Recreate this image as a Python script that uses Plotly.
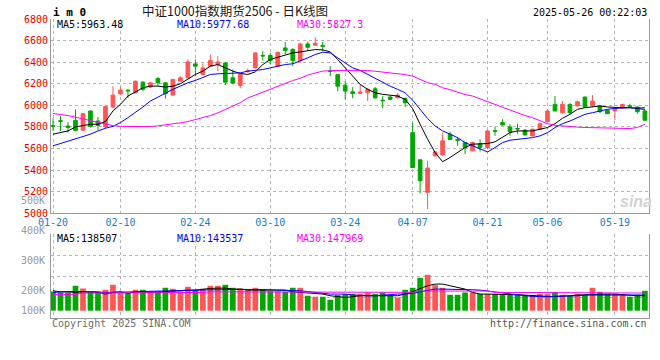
import plotly.graph_objects as go

# ---------------- data ----------------
dates = ["01-20", "01-21", "01-22", "01-23", "01-24", "01-27",
         "02-05", "02-06", "02-07",
         "02-10", "02-11", "02-12", "02-13", "02-14",
         "02-17", "02-18", "02-19", "02-20", "02-21",
         "02-24", "02-25", "02-26", "02-27", "02-28",
         "03-03", "03-04", "03-05", "03-06", "03-07",
         "03-10", "03-11", "03-12", "03-13", "03-14",
         "03-17", "03-18", "03-19", "03-20", "03-21",
         "03-24", "03-25", "03-26", "03-27", "03-28", "03-31",
         "04-01", "04-02", "04-03",
         "04-07", "04-08", "04-09", "04-10", "04-11",
         "04-14", "04-15", "04-16", "04-17", "04-18",
         "04-21", "04-22", "04-23", "04-24", "04-25",
         "04-28", "04-29", "04-30",
         "05-06", "05-07", "05-08", "05-09",
         "05-12", "05-13", "05-14", "05-15", "05-16",
         "05-19", "05-20", "05-21", "05-22", "05-23"]

opens = [5812, 5858, 5809, 5862, 5770, 5948, 5855, 5800, 5985, 6107,
         6140, 6116, 6215, 6169, 6249, 6209, 6095, 6224, 6255, 6384,
         6286, 6363, 6378, 6393, 6255, 6185, 6315, 6347, 6463, 6462,
         6363, 6532, 6517, 6415, 6569, 6557, 6555, 6320, 6286, 6187,
         6126, 6111, 6116, 6153, 6048, 6077, 6070, 6065, 5747, 5495,
         5194, 5532, 5541, 5733, 5683, 5655, 5579, 5646, 5609, 5765,
         5840, 5800, 5786, 5770, 5717, 5779, 5849, 6009, 5932, 6009,
         5994, 6077, 5994, 5994, 5954, 5948, 5978, 5996, 5985, 5948]
highs = [5880, 5901, 5846, 5961, 5928, 5952, 5892, 5995, 6178, 6169,
         6153, 6230, 6224, 6215, 6261, 6215, 6245, 6270, 6425, 6425,
         6390, 6471, 6455, 6400, 6332, 6290, 6340, 6490, 6501, 6486,
         6495, 6587, 6530, 6580, 6590, 6630, 6587, 6363, 6290, 6224,
         6169, 6194, 6160, 6170, 6086, 6090, 6113, 6070, 5840, 5500,
         5486, 5575, 5747, 5757, 5708, 5660, 5665, 5686, 5770, 5800,
         5871, 5825, 5830, 5780, 5785, 5840, 5955, 6086, 6040, 6020,
         6045, 6080, 6095, 6000, 5960, 5980, 6015, 6015, 5990, 5960]
lows = [5763, 5763, 5747, 5765, 5765, 5795, 5772, 5790, 5975, 6095,
        6070, 6110, 6132, 6163, 6178, 6061, 6090, 6220, 6250, 6271,
        6280, 6358, 6317, 6188, 6195, 6160, 6300, 6340, 6415, 6378,
        6360, 6471, 6363, 6393, 6510, 6550, 6501, 6271, 6132, 6055,
        6065, 6105, 6040, 6060, 5972, 6050, 6065, 5985, 5420, 5185,
        5041, 5525, 5535, 5680, 5625, 5548, 5575, 5572, 5594, 5717,
        5815, 5717, 5733, 5720, 5712, 5775, 5845, 5945, 5925, 5915,
        5990, 5980, 5990, 5930, 5918, 5862, 5970, 5975, 5923, 5860]
closes = [5806, 5852, 5794, 5768, 5923, 5805, 5814, 5989, 6095, 6141,
          6135, 6224, 6148, 6209, 6209, 6107, 6240, 6255, 6402, 6363,
          6347, 6415, 6402, 6215, 6206, 6286, 6320, 6486, 6458, 6415,
          6492, 6508, 6415, 6569, 6538, 6575, 6548, 6315, 6178, 6132,
          6110, 6123, 6148, 6070, 6043, 6055, 6095, 6024, 5424, 5302,
          5419, 5569, 5671, 5683, 5677, 5609, 5655, 5609, 5763, 5760,
          5818, 5757, 5781, 5726, 5779, 5830, 5948, 5948, 6009, 5932,
          6033, 5985, 6040, 5941, 5923, 5972, 6009, 5990, 5941, 5862]

ma5 = [5733, 5748, 5763, 5800, 5816, 5825, 5825, 5850, 5948, 6009,
       6086, 6126, 6163, 6178, 6178, 6169, 6178, 6200, 6240, 6286,
       6317, 6363, 6378, 6347, 6317, 6296, 6286, 6310, 6378, 6425,
       6446, 6471, 6486, 6495, 6508, 6517, 6514, 6495, 6425, 6347,
       6271, 6194, 6148, 6116, 6102, 6095, 6086, 6055, 5970, 5825,
       5686, 5563, 5478, 5517, 5563, 5609, 5640, 5640, 5646, 5662,
       5701, 5747, 5763, 5763, 5763, 5779, 5794, 5830, 5880, 5917,
       5963, 5978, 5985, 5994, 5985, 5978, 5978, 5978, 5972, 5963]
ma10 = [5625, 5646, 5664, 5686, 5708, 5733, 5763, 5788, 5805, 5840,
        5886, 5932, 5985, 6040, 6077, 6116, 6148, 6178, 6209, 6231,
        6261, 6286, 6292, 6295, 6301, 6301, 6317, 6323, 6332, 6347,
        6363, 6378, 6385, 6409, 6440, 6471, 6492, 6486, 6440, 6393,
        6347, 6323, 6286, 6249, 6209, 6178, 6148, 6116, 6048, 5960,
        5878, 5809, 5763, 5733, 5701, 5655, 5625, 5594, 5568, 5609,
        5655, 5677, 5686, 5696, 5701, 5717, 5747, 5794, 5830, 5855,
        5886, 5917, 5932, 5948, 5963, 5972, 5978, 5978, 5975, 5978]
ma30 = [5925, 5918, 5905, 5890, 5875, 5860, 5845, 5830, 5812, 5805,
        5803, 5803, 5803, 5803, 5810, 5818, 5825, 5838, 5850, 5868,
        5888, 5905, 5930, 5960, 5990, 6025, 6068, 6095, 6122, 6148,
        6175, 6205, 6230, 6250, 6280, 6300, 6317, 6322, 6323, 6323,
        6323, 6323, 6322, 6316, 6310, 6303, 6297, 6285, 6271, 6240,
        6210, 6195, 6163, 6145, 6120, 6100, 6086, 6060, 6030, 6005,
        5980, 5950, 5930, 5905, 5886, 5860, 5830, 5815, 5808, 5802,
        5798, 5795, 5794, 5792, 5790, 5788, 5786, 5785, 5795, 5825]

volumes = [150700, 148800, 148800, 161500, 156400, 150000, 148800, 153900, 163400, 148800,
           146900, 153900, 153900, 151400, 151400, 157700, 155800, 150700, 159600, 153300,
           155800, 161500, 161500, 163400, 157700, 156400, 153900, 157700, 155000, 151400,
           151400, 150000, 157700, 157700, 142500, 140600, 140600, 134900, 143800, 145700,
           146300, 145700, 148800, 146300, 148800, 142500, 139200, 153900, 157700, 176800,
           182500, 162800, 157700, 144400, 144400, 148800, 148800, 145700, 145700, 145700,
           145700, 145700, 145700, 143800, 143800, 145700, 145700, 150000, 144400, 142500,
           145700, 144400, 157700, 150000, 146300, 145700, 145700, 140600, 144400, 152000]
vma5 = [152000, 150000, 150000, 148800, 150000, 150000, 148800, 145700, 148800, 150000,
        147000, 150000, 150000, 148800, 148800, 150700, 152000, 152000, 153300, 153300,
        155200, 156400, 157000, 157000, 155200, 155200, 153300, 153300, 153300, 153900,
        153900, 153300, 150000, 148800, 148800, 147600, 145700, 142500, 140600, 139200,
        140600, 142500, 142500, 142500, 143800, 143800, 142500, 145700, 150000, 156400,
        161500, 164800, 164800, 161500, 158300, 155200, 148800, 145700, 145700, 145700,
        145700, 145700, 144400, 143800, 142500, 142500, 141200, 141200, 141200, 142500,
        143800, 144400, 145700, 145700, 145700, 145700, 144400, 143800, 142500, 142500]
vma10 = [148800, 150000, 150600, 150600, 150600, 150000, 150000, 148800, 148800, 148800,
         148800, 150000, 150600, 151400, 151400, 151400, 152000, 152000, 152700, 153300,
         153300, 153900, 153900, 154600, 154600, 154600, 154600, 153900, 153900, 153900,
         153300, 153300, 153300, 152000, 150600, 148800, 147000, 145700, 145700, 145700,
         143800, 142500, 142500, 142500, 143800, 144400, 145700, 145700, 147000, 150000,
         153300, 155200, 155200, 155200, 155200, 155200, 153900, 153300, 151400, 148800,
         147600, 145700, 144400, 142500, 141200, 140600, 140600, 141200, 141200, 141200,
         142500, 143800, 143800, 144400, 144400, 144400, 144400, 143800, 143800, 143800]
vma30 = [145000, 145000, 145000, 145000, 147600, 147600, 147600, 147600, 147600, 147600,
         148800, 148800, 148800, 148800, 148800, 148800, 148800, 148800, 148800, 148800,
         148800, 150000, 150000, 150000, 150000, 150000, 150000, 150000, 150000, 150000,
         150000, 150000, 150000, 150000, 150000, 150000, 150000, 150000, 150000, 150000,
         150000, 150000, 150000, 150000, 150000, 149000, 149000, 149000, 149000, 151500,
         151500, 151500, 151500, 151500, 151500, 151500, 151500, 151500, 151500, 149000,
         149000, 149000, 149000, 149000, 149000, 149000, 149000, 147600, 147600, 147600,
         147600, 147600, 147600, 147600, 147600, 147600, 147600, 147600, 147600, 147600]

x_tick_labels = ["01-20", "02-10", "02-24", "03-10", "03-24", "04-07", "04-21", "05-06", "05-19"]
price_ticks = [5000, 5200, 5400, 5600, 5800, 6000, 6200, 6400, 6600, 6800]
vol_label_texts = ["500K", "400K", "300K", "200K", "100K"]

title_text = "中证1000指数期货2506 - 日K线图"
symbol_text = "i m 0"
time_text = "2025-05-26 00:22:03"
price_ma_texts = ["MA5:5963.48", "MA10:5977.68", "MA30:5827.3"]
vol_ma_texts = ["MA5:138507", "MA10:143537", "MA30:147969"]
footer_left = "Copyright 2025 SINA.COM"
footer_right = "http://finance.sina.com.cn"

# ---------------- style ----------------
RED = "#ff5555"
GREEN = "#00a800"
MA_COLORS = ["#000000", "#0000ff", "#ff00ff"]
GRID = "#b4b4b4"
BORDER = "#9a9a9a"
MONO = "DejaVu Sans Mono"
VBASE = 114000

W_FIG, H_FIG = 660, 360
L, R, T, B = 50.7, 649.3, 18.5, 318.3
PW, PH = R - L, B - T


def px(xp):
    return (xp - L) / PW


def py(yp):
    return (B - yp) / PH


fig = go.Figure()

fig.add_trace(go.Candlestick(
    x=dates, open=opens, high=highs, low=lows, close=closes,
    xaxis="x", yaxis="y", whiskerwidth=0, hoverinfo="skip",
    increasing=dict(line=dict(color=RED, width=1), fillcolor=RED),
    decreasing=dict(line=dict(color=GREEN, width=1), fillcolor=GREEN),
))
for arr, col in zip([ma5, ma10, ma30], MA_COLORS):
    fig.add_trace(go.Scatter(x=dates, y=arr, mode="lines", xaxis="x", yaxis="y",
                             line=dict(color=col, width=1), hoverinfo="skip"))

vol_colors = [RED if c >= o else GREEN for o, c in zip(opens, closes)]
fig.add_trace(go.Bar(x=dates, y=[v - VBASE for v in volumes], base=VBASE,
                     xaxis="x2", yaxis="y2", width=0.76,
                     marker=dict(color=vol_colors, line=dict(width=0)), hoverinfo="skip"))
for arr, col in zip([vma5, vma10, vma30], MA_COLORS):
    fig.add_trace(go.Scatter(x=dates, y=arr, mode="lines", xaxis="x2", yaxis="y2",
                             line=dict(color=col, width=1), hoverinfo="skip"))

xr = [-0.27, 79.55]
price_dom = [py(213.3), 1]
vol_dom = [0, py(234.3)]

common_x = dict(type="category", range=xr, tickvals=x_tick_labels, ticktext=x_tick_labels,
                showgrid=True, gridcolor=GRID, griddash="dot", gridwidth=1,
                showline=True, linecolor=BORDER, linewidth=1, ticks="", zeroline=False,
                fixedrange=True, automargin=False)

fig.update_layout(
    width=W_FIG, height=H_FIG,
    margin=dict(l=L, r=W_FIG - R, t=T, b=H_FIG - B, pad=0, autoexpand=False),
    paper_bgcolor="white", plot_bgcolor="white",
    showlegend=False, hovermode=False,
    xaxis=dict(common_x, anchor="y", rangeslider=dict(visible=False),
               tickfont=dict(family=MONO, size=10, color="#1a7dc8")),
    yaxis=dict(domain=price_dom, range=[5000, 6800], tickvals=price_ticks,
               tickfont=dict(family=MONO, size=10, color="#e60000"),
               showgrid=True, gridcolor=GRID, griddash="dot", gridwidth=1,
               showline=True, mirror=True, linecolor=BORDER, linewidth=1,
               ticks="", zeroline=False, fixedrange=True, automargin=False),
    xaxis2=dict(common_x, anchor="y2", showticklabels=False),
    yaxis2=dict(domain=vol_dom, range=[100000, 260000],
                tickvals=[140000, 180000, 220000, 260000], showticklabels=False,
                showgrid=True, gridcolor=GRID, griddash="dot", gridwidth=1,
                showline=True, mirror=True, linecolor=BORDER, linewidth=1,
                ticks="", zeroline=False, fixedrange=True, automargin=False),
)

ann = []


def add_text(text, xp, yp, anchor="left", color="#000", size=10, family=MONO, bold=False, italic=False):
    t = f"<b>{text}</b>" if bold else text
    if italic:
        t = f"<i>{t}</i>"
    ann.append(dict(text=t, x=px(xp), y=py(yp), xref="paper", yref="paper",
                    xanchor=anchor, yanchor="middle", showarrow=False,
                    font=dict(family=family, size=size, color=color)))


add_text(symbol_text, 51, 11.5, bold=True, size=11)
add_text(title_text, 140, 10, size=12.5, family="Noto Sans CJK SC", color="#1a1a1a")
add_text(time_text, 649, 12, anchor="right", size=10)

for txt, xp, col in zip(price_ma_texts, [55, 175, 295], MA_COLORS):
    add_text(txt, xp, 24.5, color=col)
for txt, xp, col in zip(vol_ma_texts, [55, 175, 295], MA_COLORS):
    add_text(txt, xp, 238.5, color=col)

for txt, yp in zip(vol_label_texts, [200.5, 230.5, 260.5, 290.5, 310.5]):
    add_text(txt, 46.5, yp, anchor="right", color="#999999")

add_text(footer_left, 50, 323.5, color="#6e6e6e")
add_text(footer_right, 649.5, 323.5, anchor="right", color="#555555")

add_text("sina", 636, 201, anchor="center", size=16, family="Liberation Sans",
         color="#d2d2d2", bold=True, italic=True)

fig.update_layout(annotations=ann)

fig.write_html("out.html", config={"displayModeBar": False, "staticPlot": True},
               post_script="document.body.style.margin='0px';document.body.style.padding='0px';")
